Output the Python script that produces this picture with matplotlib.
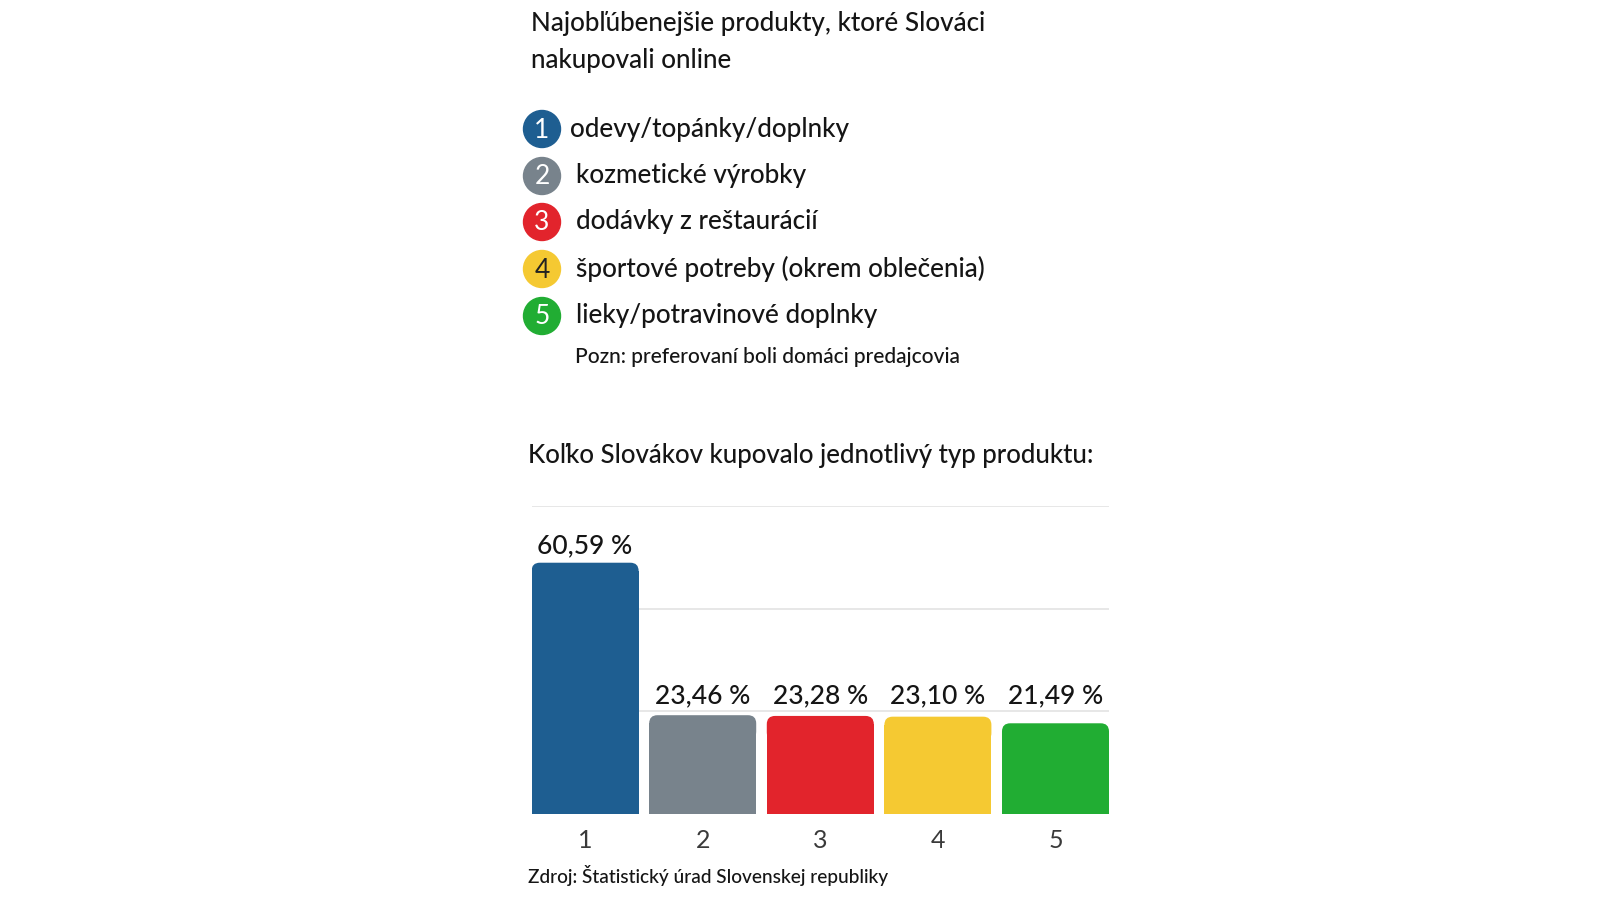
import matplotlib
matplotlib.use("Agg")
import matplotlib.pyplot as plt
from matplotlib.patches import Circle, FancyBboxPatch

plt.rcParams['font.family'] = ['Lato', 'DejaVu Sans']

# data
categories = ["1", "2", "3", "4", "5"]
values = [60.59, 23.46, 23.28, 23.10, 21.49]
value_labels = ["60,59 %", "23,46 %", "23,28 %", "23,10 %", "21,49 %"]
legend_items = ["odevy/topánky/doplnky", "kozmetické výrobky", "dodávky z reštaurácií",
                "športové potreby (okrem oblečenia)", "lieky/potravinové doplnky"]
colors = ["#1e5e91", "#78838c", "#e2242c", "#f5c932", "#21ad33"]
num_colors = ["white", "white", "white", "#222222", "white"]

title = "Najobľúbenejšie produkty, ktoré Slováci\nnakupovali online"
note = "Pozn: preferovaní boli domáci predajcovia"
subtitle = "Koľko Slovákov kupovalo jednotlivý typ produktu:"
source = "Zdroj: Štatistický úrad Slovenskej republiky"

W, H = 1600, 898
fig = plt.figure(figsize=(W / 100, H / 100), dpi=100)

# overlay in pixel coords for the text block
bg = fig.add_axes([0, 0, 1, 1])
bg.set_xlim(0, W)
bg.set_ylim(H, 0)
bg.axis("off")

txt = "#151515"
bg.text(531, 42, title, fontsize=18.7, color=txt, va="center", ha="left",
        linespacing=1.6, weight="medium")

leg_y = [129, 176, 222, 269, 316]
for i, (lab, c) in enumerate(zip(legend_items, colors)):
    bg.add_patch(Circle((542, leg_y[i]), 18.5, color=c, zorder=2))
    bg.text(542, leg_y[i] + 1, str(i + 1), color=num_colors[i], fontsize=19,
            ha="center", va="center", zorder=3)
    bg.text(570 if i == 0 else 576, leg_y[i], lab, fontsize=18.8, color=txt,
            va="center", ha="left", weight="medium")
bg.text(575, 357, note, fontsize=15, color=txt, va="center", ha="left", weight="medium")
bg.text(528, 456, subtitle, fontsize=18.6, color=txt, va="center", ha="left", weight="medium")
bg.text(528, 876, source, fontsize=13.7, color=txt, va="center", ha="left", weight="medium")

# bar chart
ax = fig.add_axes([531.6 / W, 1 - 814 / H, (1109 - 531.6) / W, (814 - 506) / H])
ax.set_xlim(-0.455, 4.455)
ax.set_ylim(0, 75)
ax.patch.set_alpha(0)
for s in ax.spines.values():
    s.set_visible(False)
ax.set_yticks([25, 50, 75])
ax.yaxis.grid(True, color="#e3e3e3", linewidth=1.2)
ax.set_axisbelow(True)
ax.tick_params(axis="y", left=False, labelleft=False)
ax.tick_params(axis="x", length=0, pad=10.5, labelsize=18, labelcolor="#3a3a3a")

x = list(range(len(values)))
width = 0.91
bars = ax.bar(x, values, width=width, color=colors, zorder=2)
ax.set_xticks(x)
ax.set_xticklabels(categories)

# round off the top corners
ry = 2.0
rx = 0.07
for b, c in zip(bars, colors):
    x0, h = b.get_x(), b.get_height() + 0.6
    b.set_height(h - ry)
    fb = FancyBboxPatch((x0, h - 3 * ry), width, 3 * ry,
                        boxstyle="round,pad=0,rounding_size=%f" % rx,
                        mutation_aspect=ry / rx, color=c, zorder=2, linewidth=0)
    ax.add_patch(fb)

# the smaller bars share one label level
small_top = max(values[1:])
for xi, v, lab in zip(x, values, value_labels):
    ly = v if v > 2 * small_top else small_top
    off = 14 if ly == v and v > 2 * small_top else 16
    ax.annotate(lab, (xi, ly), xytext=(0, off), textcoords="offset points",
                ha="center", va="center", fontsize=19, color=txt, weight="medium")

fig.savefig("out.png", dpi=100, facecolor="white")
